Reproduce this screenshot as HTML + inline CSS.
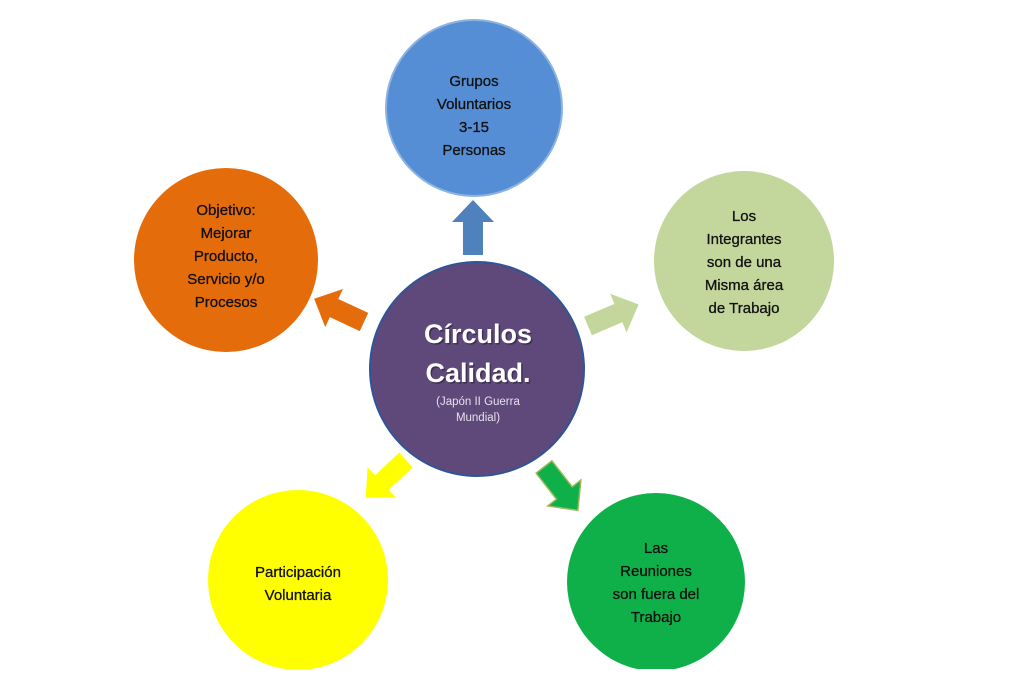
<!DOCTYPE html>
<html><head><meta charset="utf-8"><style>
html,body{margin:0;padding:0;background:#fff;}
svg{display:block;}
text{font-family:"Liberation Sans",sans-serif;}
</style></head><body>
<svg width="1023" height="688" viewBox="0 0 1023 688" xmlns="http://www.w3.org/2000/svg">
<defs>
<polygon id="arr" points="0,-10 33,-10 33,-21 55,0 33,21 33,10 0,10"/>
</defs>
<circle cx="474" cy="108" r="88" fill="#558ed5" stroke="#8db3e2" stroke-width="2"/>
<circle cx="226" cy="260" r="92" fill="#e46c0a"/>
<circle cx="744" cy="261" r="90" fill="#c3d69b"/>
<circle cx="298" cy="580" r="90" fill="#ffff00"/>
<circle cx="656" cy="582" r="89" fill="#0fb04a"/>
<circle cx="477" cy="369" r="107" fill="#5f497a" stroke="#2f5597" stroke-width="2"/>
<rect x="0" y="669" width="1023" height="19" fill="#fff"/>
<use href="#arr" fill="#4f81bd" transform="translate(473,255) rotate(-90)"/>
<use href="#arr" fill="#e46c0a" transform="translate(364,322) rotate(-155)"/>
<use href="#arr" fill="#c3d69b" transform="translate(588,326) rotate(-23)"/>
<use href="#arr" fill="#ffff00" transform="translate(406,460) rotate(137)"/>
<use href="#arr" fill="#0fb04a" stroke="#9bbb59" stroke-width="1.5" transform="translate(544,467) rotate(52)"/>
<g font-size="15" fill="#111" stroke="#111" stroke-width="0.3" text-anchor="middle">
<text x="474" y="86">Grupos</text>
<text x="474" y="109">Voluntarios</text>
<text x="474" y="132">3-15</text>
<text x="474" y="155">Personas</text>
<text x="226" y="215">Objetivo:</text>
<text x="226" y="238">Mejorar</text>
<text x="226" y="261">Producto,</text>
<text x="226" y="284">Servicio y/o</text>
<text x="226" y="307">Procesos</text>
<text x="744" y="221">Los</text>
<text x="744" y="244">Integrantes</text>
<text x="744" y="267">son de una</text>
<text x="744" y="290">Misma área</text>
<text x="744" y="313">de Trabajo</text>
<text x="298" y="577">Participación</text>
<text x="298" y="600">Voluntaria</text>
<text x="656" y="553">Las</text>
<text x="656" y="576">Reuniones</text>
<text x="656" y="599">son fuera del</text>
<text x="656" y="622">Trabajo</text>
</g>
<g text-anchor="middle" fill="#fff">
<text x="478" y="343" font-size="27" font-weight="bold" fill="#2a1f3a" opacity="0.6" transform="translate(1.5,1.5)">Círculos</text>
<text x="478" y="343" font-size="27" font-weight="bold">Círculos</text>
<text x="478" y="382" font-size="27" font-weight="bold" fill="#2a1f3a" opacity="0.6" transform="translate(1.5,1.5)">Calidad.</text>
<text x="478" y="382" font-size="27" font-weight="bold">Calidad.</text>
<text x="478" y="405" font-size="11.5" fill="#e6e0ee">(Japón II Guerra</text>
<text x="478" y="421" font-size="11.5" fill="#e6e0ee">Mundial)</text>
</g>
</svg>
</body></html>
